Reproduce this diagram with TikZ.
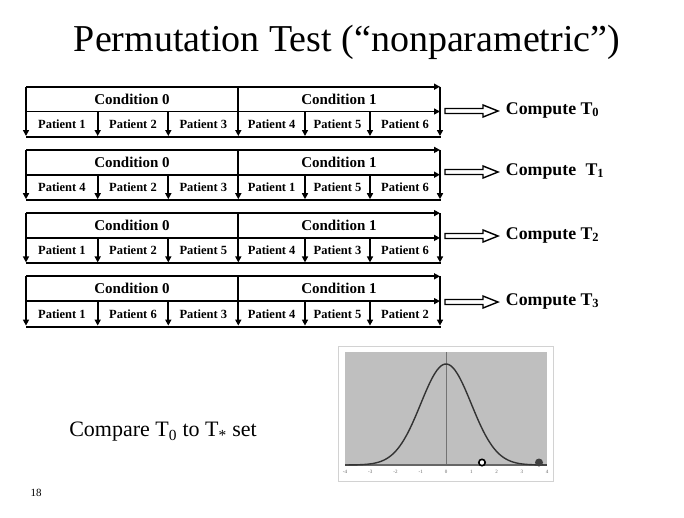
\documentclass[tikz,border=0pt]{standalone}
\usepackage{fontspec}
\setmainfont{Liberation Serif}
\usetikzlibrary{arrows.meta}
\begin{document}
\begin{tikzpicture}[x=1pt, y=-1pt, line width=1.9pt,
  >={Triangle[length=6pt,width=6pt]},
  cond/.style={font=\bfseries\fontsize{15}{15}\selectfont},
  pat/.style={font=\bfseries\fontsize{12.5}{12.5}\selectfont},
  comp/.style={anchor=west, inner sep=0pt, font=\bfseries\fontsize{17.8}{17.8}\selectfont}]
\useasboundingbox (0,0) rectangle (684,517);
\node (title) at (347,42) {\fontsize{38}{38}\selectfont Permutation Test (``nonparametric'')};
% one row of conditions / patients per permutation
\foreach \k / \pa / \pb / \pc / \pd / \pe / \pf / \ay / \gap in
  {0/1/2/3/4/5/6/111/0pt, 1/4/2/3/1/5/6/172/5pt, 2/1/2/5/4/3/6/236/0pt, 3/1/6/3/4/5/2/302/0pt}
{
	\pgfmathsetmacro\ytop{86.7+63.2*\k}
	\pgfmathsetmacro\ymid{111.5+63.2*\k}
	\pgfmathsetmacro\ybot{137+63.2*\k}
	\pgfmathsetmacro\yc{(\ytop+\ymid)/2}
	\pgfmathsetmacro\yp{(\ymid+\ybot)/2}
	\draw[->] (26,\ytop) -- (440,\ytop);
	\draw[->] (26,\ymid) -- (440,\ymid);
	\draw (26,\ybot) -- (441,\ybot);
	\foreach \x in {26,238.3,440}
		\draw[->] (\x,\ytop) -- (\x,\ybot-1);
	\foreach \x in {97.7,168.3,305,370}
		\draw[->] (\x,\ymid) -- (\x,\ybot-1);
	\node[cond] (c0-\k) at (132,\yc) {Condition 0};
	\node[cond] (c1-\k) at (339,\yc) {Condition 1};
	\foreach \x / \p [count=\i] in {61.9/\pa, 133/\pb, 203.3/\pc, 271.7/\pd, 337.5/\pe, 405/\pf}
		\node[pat] (p\k-\i) at (\x,\yp) {Patient \p};
	\node[comp] (t\k) at (505,\ay-1) {Compute\hspace{\gap} T\textsubscript{\k}};
	\coordinate (a\k) at (445,\ay);
	\draw[line width=1.4pt, fill=white] (a\k) ++(0,-2.5) -- ++(38,0) -- ++(0,-3.5)
		-- ++(15,6) -- ++(-15,6) -- ++(0,-3.5) -- ++(-38,0) -- cycle;
}
% normal curve plot
\draw[gray!35, line width=1pt, fill=white] (338,346) rectangle (553,481);
\fill[gray!50] (345,352) rectangle (547,465);
\draw[line width=0.5pt, black!55] (446,352) -- (446,465);
\draw[line width=2pt, black!60] (345,465) -- (547,465);
\draw[line width=1.4pt, black!80, domain=-4:4, samples=100, smooth]
	plot ({446+25.25*\x}, {465-101*exp(-\x*\x/2)});
\foreach \t in {-4,...,4}
	\node[font=\fontsize{5}{5}\selectfont, text=black!60] (tick\t) at ({446+25.25*\t},472) {\t};
\draw[line width=1.6pt, fill=white] (482,462.5) circle (3.2);
\fill[black!75] (539,462.5) circle (4);
\node (cmp) at (163,432) {\fontsize{22}{22}\selectfont Compare T\textsubscript{0} to T\textsubscript{*} set};
\node (page) at (36,493) {\fontsize{11}{11}\selectfont 18};
\end{tikzpicture}
\end{document}
